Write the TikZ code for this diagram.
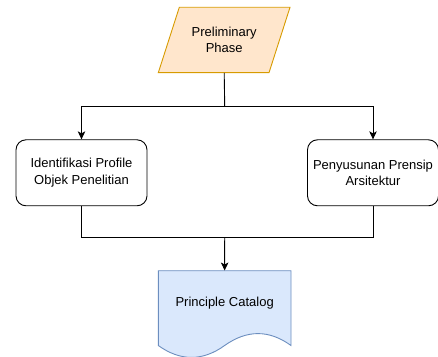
\documentclass[tikz,border=0pt]{standalone}
\usepackage{fontspec}
\setmainfont{Liberation Sans}
\usetikzlibrary{arrows.meta}
\definecolor{phasefill}{HTML}{FFE6CC}
\definecolor{phaseline}{HTML}{D79B00}
\definecolor{docfill}{HTML}{DAE8FC}
\definecolor{docline}{HTML}{6C8EBF}
\tikzset{
  x=1pt, y=1pt,
  label text/.style={font=\fontsize{13}{16.5}\selectfont, align=center, text=black},
  procbox/.style={label text, draw=black, line width=0.9pt, fill=white,
    rounded corners=10pt, minimum width=131pt, minimum height=66pt, inner sep=0pt},
  flow/.style={draw=black, line width=0.9pt},
  flowarrow/.style={flow, -{Stealth[length=8pt, width=7.5pt, inset=2pt]}},
}
\begin{document}
\begin{tikzpicture}
\useasboundingbox (0,0) rectangle (438,356);

% Preliminary phase (parallelogram)
\node[minimum width=132pt, minimum height=65.4pt, inner sep=0pt] (prelim) at (224.2,316) {};
\fill[phasefill, draw=phaseline, line width=0.9pt]
  (179.3,348.7) -- (290,348.7) -- (269,283.3) -- (158.3,283.3) -- cycle;
\node[label text] (prelimtext) at (224.2,316) {Preliminary\\Phase};

% Process steps
\node[procbox] (profile) at (81.5,183.2) {Identifikasi Profile\\Objek Penelitian};
\node[procbox] (prinsip) at (373,183.2) {Penyusunan Prensip\\Arsitektur};

% Principle catalog (document shape)
\node[minimum width=132.7pt, minimum height=74.8pt, inner sep=0pt] (catalog) at (224.65,47.9) {};
\fill[docfill, draw=docline, line width=0.9pt]
  (158.3,85.3) -- (291,85.3) -- (291,10.5)
  .. controls (269.07,26.37) and (246.95,26.37) .. (224.65,10.5)
  .. controls (202.55,-5.37) and (180.43,-5.37) .. (158.3,10.5) -- cycle;
\node[label text] (catalogtext) at (224.65,53.3) {Principle Catalog};

% Connectors
\coordinate (split) at (224.7,249.7);
\coordinate (merge) at (224.7,118.5);
\draw[flow] (prelim.south) -- (split);
\draw[flowarrow] (split) -| (profile.north);
\draw[flowarrow] (split) -| (prinsip.north);
\draw[flow] (profile.south) |- (merge);
\draw[flow] (prinsip.south) |- (merge);
\draw[flowarrow] (merge) -- (catalog.north);
\end{tikzpicture}
\end{document}
